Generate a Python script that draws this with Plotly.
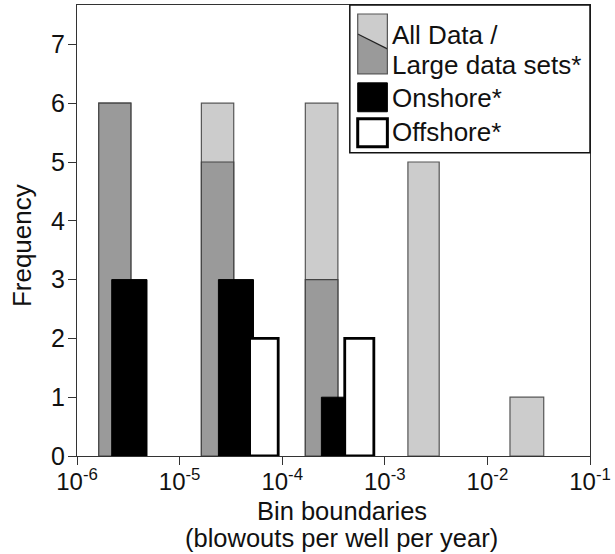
import plotly.graph_objects as go

# Histogram of blowout frequencies, binned by decade (log scale)
# Each bar is given by its lower/upper bin boundary and a count.
all_lo = [1.63e-6, 1.63e-5, 1.68e-4, 1.68e-3, 1.66e-2]
all_hi = [3.35e-6, 3.37e-5, 3.49e-4, 3.39e-3, 3.54e-2]
all_count = [6, 6, 6, 5, 1]

large_lo = [1.63e-6, 1.63e-5, 1.68e-4, 1.68e-3, 1.66e-2]
large_hi = [3.35e-6, 3.37e-5, 3.49e-4, 3.39e-3, 3.54e-2]
large_count = [6, 5, 3, 0, 0]

onshore_lo = [2.18e-6, 2.39e-5, 2.41e-4]
onshore_hi = [4.81e-6, 5.25e-5, 5.30e-4]
onshore_count = [3, 3, 1]

offshore_lo = [4.81e-5, 4.07e-4]
offshore_hi = [9.14e-5, 7.82e-4]
offshore_count = [2, 2]

tick_vals = [1e-6, 1e-5, 1e-4, 1e-3, 1e-2, 1e-1]
tick_text = ["10<sup>-6</sup>", "10<sup>-5</sup>", "10<sup>-4</sup>",
             "10<sup>-3</sup>", "10<sup>-2</sup>", "10<sup>-1</sup>"]

FONT = "Arial, Liberation Sans, sans-serif"
INK = "#111111"
LIGHT = "#cccccc"
DARK = "#9a9a9a"


def rects(lo, hi, counts):
    xs, ys = [], []
    for a, b, c in zip(lo, hi, counts):
        if c <= 0:
            continue
        xs += [a, a, b, b, a, None]
        ys += [0, c, c, 0, 0, None]
    return xs, ys


fig = go.Figure()
for lo, hi, cnt, fill, edge, w in [
    (all_lo, all_hi, all_count, LIGHT, "#555555", 1.2),
    (large_lo, large_hi, large_count, DARK, "#444444", 1.2),
    (onshore_lo, onshore_hi, onshore_count, "#000000", "#000000", 1),
    (offshore_lo, offshore_hi, offshore_count, "#ffffff", "#000000", 2.8),
]:
    xs, ys = rects(lo, hi, cnt)
    fig.add_trace(go.Scatter(x=xs, y=ys, mode="lines", fill="toself",
                             fillcolor=fill, line=dict(color=edge, width=w),
                             hoverinfo="skip", showlegend=False))

# plot-area geometry (pixels) used to place the hand-drawn key and titles
L, R, T, B = 77, 596, 4, 456
W, H = 615, 554


def px(x):
    return (x - L) / (R - L)


def py(y):
    return (B - y) / (B - T)


shapes = []
# key frame
shapes.append(dict(type="rect", xref="paper", yref="paper",
                   x0=px(353), x1=px(596), y0=py(152), y1=py(4),
                   line=dict(color=INK, width=1.5), fillcolor="white"))
# split swatch: all data / large data sets
sx0, sx1 = px(361), px(391)
shapes.append(dict(type="path", xref="paper", yref="paper",
                   path=f"M {sx0},{py(13)} L {sx1},{py(13)} L {sx1},{py(48)} L {sx0},{py(33)} Z",
                   fillcolor=LIGHT, line=dict(width=0)))
shapes.append(dict(type="path", xref="paper", yref="paper",
                   path=f"M {sx0},{py(33)} L {sx1},{py(48)} L {sx1},{py(73)} L {sx0},{py(73)} Z",
                   fillcolor=DARK, line=dict(width=0)))
shapes.append(dict(type="line", xref="paper", yref="paper",
                   x0=sx0, y0=py(33), x1=sx1, y1=py(48),
                   line=dict(color="#222222", width=1.2)))
shapes.append(dict(type="rect", xref="paper", yref="paper",
                   x0=sx0, x1=sx1, y0=py(73), y1=py(13),
                   line=dict(color="#555555", width=1.2)))
# onshore swatch
shapes.append(dict(type="rect", xref="paper", yref="paper",
                   x0=sx0, x1=sx1, y0=py(111), y1=py(82),
                   fillcolor="#000000", line=dict(color="#000000", width=1)))
# offshore swatch
shapes.append(dict(type="rect", xref="paper", yref="paper",
                   x0=sx0, x1=sx1, y0=py(146), y1=py(118),
                   fillcolor="#ffffff", line=dict(color="#000000", width=3)))

annotations = []
for text, yc in [("All Data /", 34), ("Large data sets*", 64),
                 ("Onshore*", 97), ("Offshore*", 131)]:
    annotations.append(dict(text=text, xref="paper", yref="paper",
                            x=px(394), y=py(yc), xanchor="left", yanchor="middle",
                            showarrow=False, font=dict(family=FONT, size=26, color=INK)))

# axis titles
for text, yc in [("Bin boundaries", 511), ("(blowouts per well per year)", 538)]:
    annotations.append(dict(text=text, xref="paper", yref="paper",
                            x=px(345), y=py(yc), xanchor="center", yanchor="middle",
                            showarrow=False, font=dict(family=FONT, size=25.5, color=INK)))
annotations.append(dict(text="Frequency", xref="paper", yref="paper",
                        x=px(22), y=py(245), xanchor="center", yanchor="middle",
                        textangle=-90, showarrow=False,
                        font=dict(family=FONT, size=26, color=INK)))

fig.update_layout(
    width=W, height=H,
    margin=dict(l=L, r=W - R, t=T, b=H - B),
    paper_bgcolor="white", plot_bgcolor="white",
    font=dict(family=FONT, color=INK),
    shapes=shapes, annotations=annotations,
    showlegend=False,
)
fig.update_xaxes(
    type="log", range=[-6, -1],
    tickvals=tick_vals, ticktext=tick_text, ticklabeloverflow="allow",
    ticks="outside", ticklen=8, tickcolor="#333333", ticklabelstandoff=-4,
    tickfont=dict(family=FONT, size=24, color=INK),
    showline=True, linecolor="#333333", linewidth=1, mirror=True,
    showgrid=False, zeroline=False,
)
fig.update_yaxes(
    range=[0, 7.67], tickvals=list(range(8)),
    ticks="outside", ticklen=8, tickcolor="#333333", ticklabelstandoff=-2,
    tickfont=dict(family=FONT, size=25, color=INK),
    showline=True, linecolor="#333333", linewidth=1, mirror=True,
    showgrid=False, zeroline=False,
)

fig.write_html("out.html")
